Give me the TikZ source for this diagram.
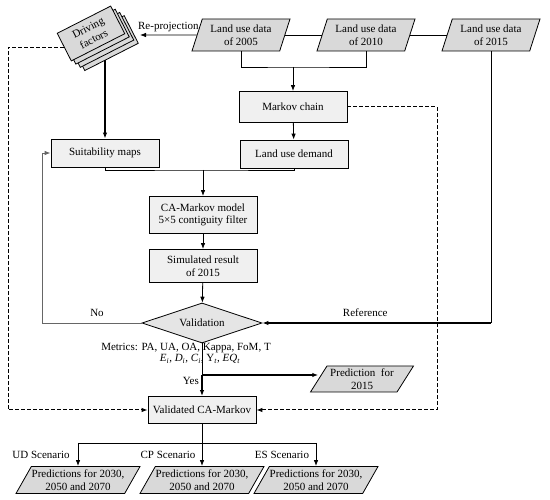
\documentclass[tikz,border=0pt]{standalone}
\usepackage{fontspec}
\setmainfont{Liberation Serif}
\usepackage{tikz}
\usetikzlibrary{arrows.meta}
\usetikzlibrary{shapes.geometric}
\usetikzlibrary{calc}
\pgfdeclarelayer{bg}
\pgfsetlayers{bg,main}
\tikzset{
  box/.style={draw, fill=gray!12, line width=0.8pt, minimum width=108pt, minimum height=28pt, inner sep=1pt, align=center},
  data/.style={draw, fill=gray!30, line width=0.8pt, trapezium, trapezium left angle=63, trapezium right angle=117, trapezium stretches body, minimum width=98pt, minimum height=32pt, inner sep=0pt, align=center},
  pred/.style={data, trapezium left angle=53, trapezium right angle=127, minimum width=124pt, minimum height=27pt},
  sheet/.style={draw, fill=gray!30, line width=0.8pt, rotate=27, minimum width=60pt, minimum height=31pt, inner sep=0pt, align=center},
  decision/.style={draw, fill=gray!20, line width=0.8pt, diamond, aspect=3, minimum width=120pt, minimum height=40pt, inner sep=0pt},
  line/.style={line width=0.8pt},
  thickline/.style={line width=1.4pt},
  dashline/.style={line width=1pt, dash pattern=on 3.5pt off 2.5pt},
  lbl/.style={inner sep=0pt}
}
\begin{document}
\begin{tikzpicture}[x=1pt, y=-1pt, >={Latex[length=6pt,width=4.5pt]}, font=\fontsize{11}{12.5}\selectfont]
		\useasboundingbox (0,0) rectangle (550,500);

		%Driving factors (Stapel)
		\foreach \i in {3,2,1}
			\node[sheet] (drv\i) at ($(91,33.5)+\i*(4.5,3.2)$) {};
		\node[sheet] (drv) at (91,33.5) {Driving\\factors};

		%Eingangsdaten
		\node[data] (ld05) at (241,35) {Land use data\\of 2005};
		\node[data] (ld10) at (366,35) {Land use data\\of 2010};
		\node[data] (ld15) at (491,35) {Land use data\\of 2015};

		%Modellkette
		\node[box, minimum height=31pt] (markov) at (293,107) {Markov chain};
		\node[box] (suit) at (105,153) {Suitability maps};
		\node[box] (demand) at (294,154) {Land use demand};
		\node[box, minimum height=37pt] (camodel) at (203,215) {CA-Markov model\\5×5 contiguity filter};
		\node[box, minimum height=33pt] (simres) at (203,266) {Simulated result\\of 2015};
		\node[decision] (valid) at (202,323) {Validation};
		\node[lbl] (metrics) at (186,348) {Metrics: PA, UA, OA, Kappa, FoM, T};
		\node[lbl] (indices) at (200,359) {\textit{E}\textsubscript{\textit{i}}, \textit{D}\textsubscript{\textit{i}}, \textit{C}\textsubscript{\textit{i}}, Y\textsubscript{\textit{t}}, \textit{EQ}\textsubscript{\textit{t}}};
		\node[pred, minimum width=103pt, minimum height=26pt, trapezium left angle=51, trapezium right angle=129] (pred15) at (362,379) {Prediction\ \ for\\2015};
		\node[box, minimum height=27pt] (valca) at (202,410) {Validated CA-Markov};

		%Szenarien
		\node[pred] (pUD) at (78,480) {Predictions for 2030,\\2050 and 2070};
		\node[pred] (pCP) at (202,480) {Predictions for 2030,\\2050 and 2070};
		\node[pred] (pES) at (316,480) {Predictions for 2030,\\2050 and 2070};
		\node[lbl] at (41,455) {UD Scenario};
		\node[lbl] at (168,455) {CP Scenario};
		\node[lbl] at (282,455) {ES Scenario};

		%Hilfspunkte
		\coordinate (reproj) at (140,35);
		\coordinate (j1) at (293,67);
		\coordinate (j2) at (203,170);
		\coordinate (nocorner) at (42,323);
		\coordinate (j4) at (202,375);
		\coordinate (j3) at (202,443);
		\coordinate (dleft) at (8,410);
		\coordinate (dright) at (437,410);

		%Hinter dem Stapel
		\begin{pgfonlayer}{bg}
			\draw[thickline, ->] (suit.north |- drv3.center) -- (suit.north);
			\draw[dashline, ->] (drv.west) -| (dleft) -- (valca.west);
		\end{pgfonlayer}

		%Verbindungen oben
		\draw[line] (ld05.east) -- (ld10.west) (ld10.east) -- (ld15.west);
		\draw[line, ->] (ld05.west) -- (reproj) node [midway, above, yshift=-1pt] {Re-projection};
		\draw[line] (ld05.south) |- (j1) -| (ld10.south);
		\draw[line, ->] (j1) -- (markov.north);
		\draw[line, ->] (markov) -- (demand);
		\draw[line] (suit.south) |- (j2) -| (demand.south);
		\draw[line, ->] (j2) -- (camodel.north);
		\draw[line, ->] (camodel) -- (simres);
		\draw[line, ->] (simres) -- (valid);

		%Rueckkopplung und Referenz
		\draw[line, black!60, ->] (valid.west) -- (nocorner) |- (suit.west);
		\node[lbl] at (97,313) {No};
		\draw[line] (ld15.south) |- (valid.east -| ld15.south);
		\draw[line width=1.2pt, ->] (valid.east -| ld15.south) -- (valid.east) node [pos=0.55, above=2pt] {Reference};

		%Validierung
		\draw[line] (valid.south) -- (j4);
		\draw[thickline, ->] (j4) -- (valca.north);
		\draw[thickline, ->] (j4) -- (j4 -| pred15.west);
		\node[lbl, anchor=east] at ($(j4)+(-3,6)$) {Yes};
		\draw[dashline, ->] (markov.east) -| (dright) -- (valca.east);

		%Verzweigung Szenarien
		\draw[line] (valca.south) -- (j3);
		\draw[line] (pUD.north |- j3) -- (pES.north |- j3);
		\foreach \p in {pUD,pCP,pES}
			\draw[line, ->] (\p.north |- j3) -- (\p.north);
\end{tikzpicture}
\end{document}
